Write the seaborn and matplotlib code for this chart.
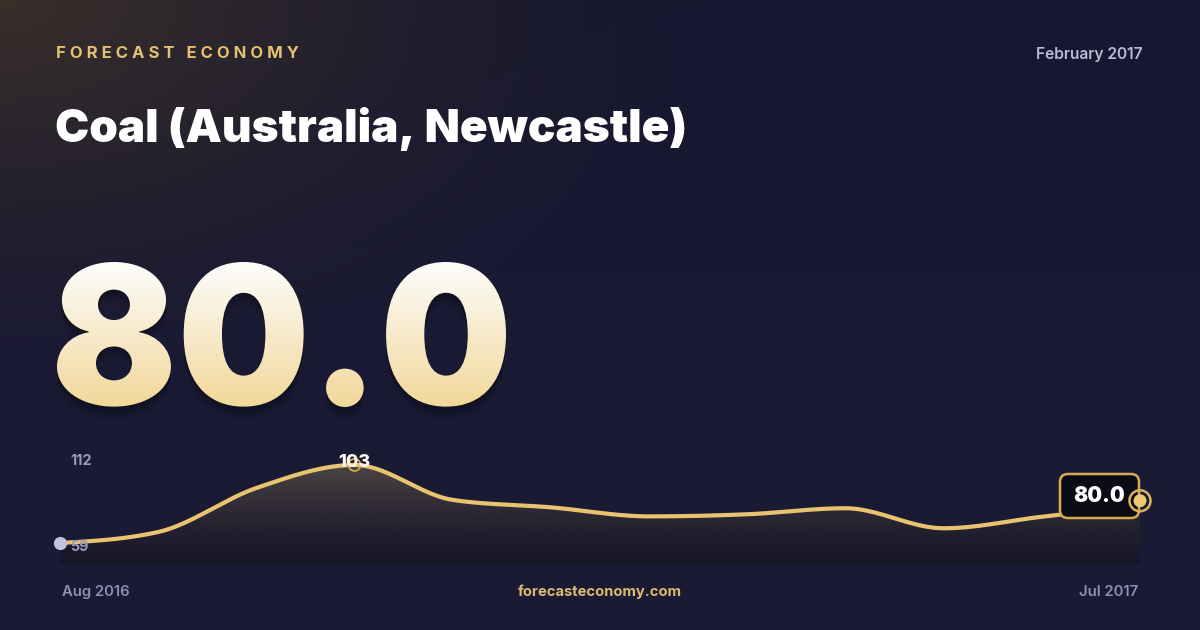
import numpy as np
import pandas as pd
import matplotlib
matplotlib.use("Agg")
import matplotlib.pyplot as plt
import seaborn as sns
from matplotlib.textpath import TextPath
from matplotlib.font_manager import FontProperties
from matplotlib.patches import PathPatch, FancyBboxPatch, Circle
from matplotlib.transforms import Affine2D

# data (monthly, Aug 2016 .. Jul 2017)
months = ["Aug 2016", "Sep 2016", "Oct 2016", "Nov 2016", "Dec 2016", "Jan 2017",
          "Feb 2017", "Mar 2017", "Apr 2017", "May 2017", "Jun 2017", "Jul 2017"]
prices = [59.0, 65.2, 90.0, 103.0, 83.3, 79.1, 74.0, 75.2, 78.6, 67.3, 73.8, 80.0]
axis_labels = ["112", "59"]
headline = "80.0"
title = "Coal (Australia, Newcastle)"
brand = "FORECAST ECONOMY"
date_label = "February 2017"
site = "forecasteconomy.com"

W, H = 1200, 630
GOLD = "#e8c470"
NAVY = "#17182f"

sns.set_theme(style="white")
plt.rcParams["font.family"] = ["Inter", "DejaVu Sans"]


def monotone(xs, ys, per=40):
    # monotone cubic (like d3.curveMonotoneX) for drawing the smooth line
    xs = np.asarray(xs, float)
    ys = np.asarray(ys, float)
    h = np.diff(xs)
    d = np.diff(ys) / h
    m = np.zeros(len(xs))
    for i in range(1, len(xs) - 1):
        if d[i - 1] * d[i] <= 0:
            m[i] = 0
        else:
            p = (d[i - 1] * h[i] + d[i] * h[i - 1]) / (h[i - 1] + h[i])
            m[i] = (np.sign(d[i - 1]) + np.sign(d[i])) * min(abs(d[i - 1]), abs(d[i]), 0.5 * abs(p))
    m[0] = (3 * d[0] - m[1]) / 2
    m[-1] = (3 * d[-1] - m[-2]) / 2
    ox, oy = [], []
    for i in range(len(xs) - 1):
        t = np.linspace(0, 1, per, endpoint=False)
        h00 = 2 * t**3 - 3 * t**2 + 1
        h10 = t**3 - 2 * t**2 + t
        h01 = -2 * t**3 + 3 * t**2
        h11 = t**3 - t**2
        ox.append(xs[i] + t * h[i])
        oy.append(h00 * ys[i] + h10 * h[i] * m[i] + h01 * ys[i + 1] + h11 * h[i] * m[i + 1])
    ox.append([xs[-1]])
    oy.append([ys[-1]])
    return np.concatenate(ox), np.concatenate(oy)


fig = plt.figure(figsize=(W / 100, H / 100), dpi=100)

# background with warm glow in the top-left corner
bg = fig.add_axes([0, 0, 1, 1], zorder=0)
yy, xx = np.mgrid[0:H, 0:W]
r = np.sqrt((xx / 720.0) ** 2 + (yy / 400.0) ** 2)
glow = np.clip(1 - r, 0, 1) ** 1.5
base = np.array(matplotlib.colors.to_rgb(NAVY))
bottom = np.array(matplotlib.colors.to_rgb("#1b1b36"))
warm = np.array(matplotlib.colors.to_rgb("#3a2f2a"))
vert = (yy / H)[..., None]
img = base * (1 - vert) + bottom * vert
img = img * (1 - glow[..., None]) + warm * glow[..., None]
bg.imshow(img, extent=[0, W, H, 0], aspect="auto")
bg.set_xlim(0, W)
bg.set_ylim(H, 0)
bg.axis("off")

# sparkline
x0, x1 = 60, 1140
ytop, ybot = 449, 564
ymin = 59 - (ybot - 543) / ((543 - 465) / (103 - 59))
ax = fig.add_axes([x0 / W, 1 - ybot / H, (x1 - x0) / W, (ybot - ytop) / H], zorder=1)
ax.patch.set_alpha(0)
idx = np.arange(len(prices))
sx, sy = monotone(idx, prices)
curve = pd.DataFrame({"i": sx, "price": sy})

poly = ax.fill_between(sx, sy, ymin, color="none", lw=0)
grad = np.zeros((256, 2, 4))
grad[..., :3] = matplotlib.colors.to_rgb(GOLD)
grad[..., 3] = np.linspace(0.27, 0.0, 256)[:, None]
gim = ax.imshow(grad, extent=[0, len(prices) - 1, ymin, 105], aspect="auto", origin="upper", zorder=1)
gim.set_clip_path(poly.get_paths()[0], transform=ax.transData)
# darken the fill toward bottom
shade = np.zeros((256, 2, 4))
shade[..., :3] = matplotlib.colors.to_rgb("#15141f")
shade[..., 3] = np.linspace(0.0, 0.55, 256)[:, None]
sim = ax.imshow(shade, extent=[0, len(prices) - 1, ymin, 105], aspect="auto", origin="upper", zorder=1)
sim.set_clip_path(poly.get_paths()[0], transform=ax.transData)

sns.lineplot(data=curve, x="i", y="price", ax=ax, color=GOLD, lw=3.0, zorder=3)
ax.set_xlim(0, len(prices) - 1)
ax.set_ylim(ymin, 112)
ax.axis("off")

# start dot, peak ring, end marker
ax.scatter([0], [prices[0]], s=90, color="#c2c4dc", zorder=5, clip_on=False, lw=0)
pk = int(np.argmax(prices))
ax.scatter([pk], [prices[pk]], s=75, facecolor="none", edgecolor="#d4a94e", lw=1.3, zorder=5, clip_on=False)
ax.text(pk, prices[pk] + 1.5, f"{prices[pk]:.0f}", color="#fbf7ee", fontsize=13, fontweight="heavy",
        ha="center", va="center", zorder=6)

ax.text(0.1, 112 - 6.9, axis_labels[0], color="#9a9bbb", fontsize=10.3, fontweight="bold", va="center")
ax.text(0.1, prices[0] - 2.3, axis_labels[1], color="#9a9bbb", fontsize=10.3, fontweight="bold", va="center")

# overlay in pixel coordinates
ov = fig.add_axes([0, 0, 1, 1], zorder=2)
ov.patch.set_alpha(0)
ov.set_xlim(0, W)
ov.set_ylim(H, 0)
ov.axis("off")

# end value badge
to_px = ax.transData + ov.transData.inverted()
ex, ey = to_px.transform((len(prices) - 1, prices[-1]))
box = FancyBboxPatch((1060, 474), 79, 44, boxstyle="round,pad=0,rounding_size=8",
                     fc="#0b0b18", ec="#d4aa52", lw=1.8, zorder=6)
ov.add_patch(box)
ov.text(1099.5, 496, f"{prices[-1]:.1f}", color="white", fontsize=15, fontweight="black",
        ha="center", va="center", zorder=7)
ov.add_patch(Circle((ex, ey - 5), 10.5, fc="none", ec="#d9b25a", lw=1.8, zorder=8))
ov.add_patch(Circle((ex, ey - 5), 6.5, fc="#ecc872", ec="none", zorder=8))

# header texts
spaced = "   ".join(" ".join(w) for w in brand.split(" "))
ov.text(56, 53, spaced, color="#e3c173", fontsize=12, fontweight="bold", va="center", ha="left")
ov.text(1143, 54, date_label, color="#b9bad4", fontsize=11.2, fontweight="semibold", va="center", ha="right")
ov.text(55, 142, title, color="white", fontsize=33, fontweight="black", va="baseline", ha="left")

# footer texts
ov.text(62, 592, months[0], color="#8e90b2", fontsize=10.7, fontweight="semibold", va="center", ha="left")
ov.text(1138, 592, months[-1], color="#8e90b2", fontsize=10.7, fontweight="semibold", va="center", ha="right")
ov.text(600, 592, site, color="#dcbb6c", fontsize=10.6, fontweight="bold", va="center", ha="center")

# big headline number with vertical gradient
fp = FontProperties(family=["Inter", "DejaVu Sans"], weight="black")
tp = TextPath((0, 0), headline, size=100, prop=fp)
ext = tp.get_extents()
bx0, bx1, by0, by1 = 57, 506, 262, 407
sxs = (bx1 - bx0) / ext.width
sys_ = (by1 - by0) / ext.height
tr = Affine2D().translate(-ext.x0, -ext.y0).scale(sxs, -sys_).translate(bx0, by1)
for dx, dy, a in [(0, 12, 0.07), (0, 9, 0.09), (0, 6, 0.11), (0, 3, 0.13)]:
    sh = PathPatch(tp, transform=tr + Affine2D().translate(dx, dy) + ov.transData,
                   fc="#05050c", ec="none", alpha=a, zorder=3)
    ov.add_patch(sh)
patch = PathPatch(tp, transform=tr + ov.transData, fc="none", ec="none", zorder=4)
ov.add_patch(patch)
g = np.zeros((256, 2, 3))
top_c = np.array(matplotlib.colors.to_rgb("#fdfdfc"))
bot_c = np.array(matplotlib.colors.to_rgb("#f2d89a"))
t = np.linspace(0, 1, 256)[:, None, None]
g[:] = top_c * (1 - t) + bot_c * t
him = ov.imshow(g, extent=[bx0, bx1, by1, by0], aspect="auto", zorder=4)
him.set_clip_path(patch)
ov.set_xlim(0, W)
ov.set_ylim(H, 0)

fig.savefig("out.png", dpi=100)
